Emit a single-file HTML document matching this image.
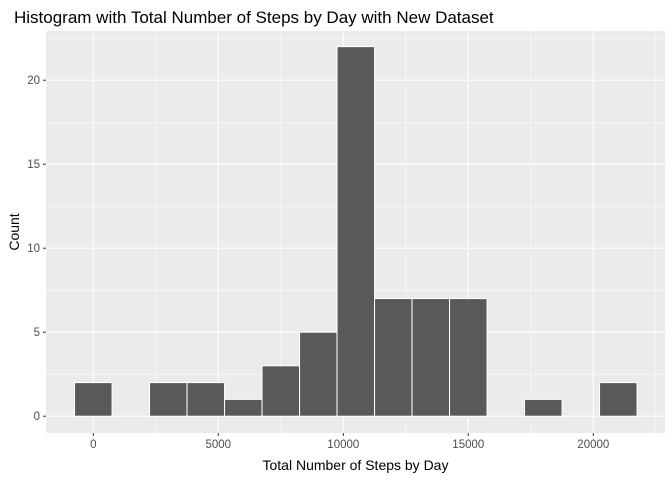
<!DOCTYPE html>
<html><head><meta charset="utf-8"><style>
body{margin:0;background:#fff;font-family:"Liberation Sans",Arial,sans-serif}
</style></head><body>
<svg id="chart" width="672" height="480" xmlns="http://www.w3.org/2000/svg">
<text x="14" y="23" font-size="17" fill="#000">Histogram with Total Number of Steps by Day with New Dataset</text>
<rect x="46" y="31" width="619" height="402" fill="#ebebeb"/>
<g id="grid"></g><g id="bars"></g><g id="axes"></g>
<text x="355.5" y="470" font-size="14" text-anchor="middle" fill="#000">Total Number of Steps by Day</text>
<text transform="translate(19,232) rotate(-90)" font-size="14" text-anchor="middle" fill="#000">Count</text>
</svg>
<script>
const binStarts=[-750,2250,3750,5250,6750,8250,9750,11250,12750,14250,17250,20250];
const counts=[2,2,2,1,3,5,22,7,7,7,1,2];
const binWidth=1500;
const xTicks=[0,5000,10000,15000,20000];
const yTicks=[0,5,10,15,20];
const xMin=-1892,xMax=22868,yMin=-1.0,yMax=22.93;
const L=46,R=665,T=31,B=433;
function sx(v){return L+(v-xMin)/(xMax-xMin)*(R-L);}
function sy(v){return B-(v-yMin)/(yMax-yMin)*(B-T);}
const NS="http://www.w3.org/2000/svg";
function mk(t,a,p){const e=document.createElementNS(NS,t);for(const k in a)e.setAttribute(k,a[k]);p.appendChild(e);return e;}
const grid=document.getElementById('grid'),bars=document.getElementById('bars'),axes=document.getElementById('axes');
for(let i=0;i<xTicks.length;i++){
 const x=sx(xTicks[i]);
 const g=mk('line',{x1:x,x2:x,y1:T,y2:B,stroke:'#fff','stroke-width':1.1},grid);
 
 
 const mx=sx(xTicks[i]-2500);
 if(mx>L){const m=mk('line',{x1:mx,x2:mx,y1:T,y2:B,stroke:'#fff','stroke-width':0.55},grid);
 
 }
 const mx2=sx(xTicks[i]+2500);
 if(i==xTicks.length-1&&mx2<R){const m=mk('line',{x1:mx2,x2:mx2,y1:T,y2:B,stroke:'#fff','stroke-width':0.55},grid);
 
 }
 const tk=mk('line',{x1:x,x2:x,y1:B,y2:B+3,stroke:'#333','stroke-width':1},axes);
 
 
 const t=mk('text',{x:x,y:B+15,'font-size':11.5,'text-anchor':'middle',fill:'#4d4d4d'},axes);
 t.textContent=xTicks[i];
 
 
}
for(let i=0;i<yTicks.length;i++){
 const y=sy(yTicks[i]);
 const g=mk('line',{x1:L,x2:R,y1:y,y2:y,stroke:'#fff','stroke-width':1.1},grid);
 
 
 const my=sy(yTicks[i]+2.5);
 if(my>T){const m=mk('line',{x1:L,x2:R,y1:my,y2:my,stroke:'#fff','stroke-width':0.55},grid);
 
 }
 const tk=mk('line',{x1:L-3,x2:L,y1:y,y2:y,stroke:'#333','stroke-width':1},axes);
 
 
 const t=mk('text',{x:L-6,y:y+4,'font-size':11.5,'text-anchor':'end',fill:'#4d4d4d'},axes);
 t.textContent=yTicks[i];
 
 
}
for(let i=0;i<counts.length;i++){
 const x0=sx(binStarts[i]),x1=sx(binStarts[i]+binWidth),y0=sy(counts[i]),yb=sy(0);
 const r=mk('rect',{x:x0,y:y0,width:x1-x0,height:yb-y0,fill:'#595959',stroke:'#fff','stroke-width':1},bars);
 
 
}
</script>
</body></html>
